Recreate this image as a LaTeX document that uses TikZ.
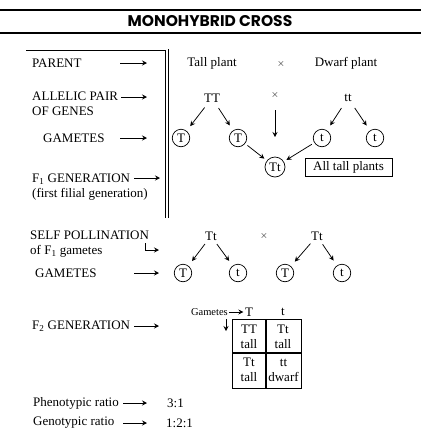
\documentclass[tikz,border=0pt]{standalone}
\usepackage{fontspec}
\setmainfont{Liberation Serif}
\newfontfamily\titlefont{Poppins}
\usetikzlibrary{arrows.meta}
\tikzset{
  arr/.style={-{Stealth[length=5pt,width=5pt,inset=1.8pt]},line width=0.75pt},
  lbl/.style={anchor=west,inner sep=0pt,align=left},
  txt/.style={inner sep=0pt},
  gam/.style={circle,draw,line width=0.7pt,inner sep=0pt,minimum size=17.5pt},
  split/.style={arr,shorten <=12pt,shorten >=15pt},
  fuse/.style={arr,shorten <=12pt,shorten >=13.5pt},
}

\begin{document}
\begin{tikzpicture}[x=1pt,y=1pt,font=\fontsize{13}{15}\selectfont]
\useasboundingbox (0,0) rectangle (421,-440);
% title bar
\draw[line width=1.5pt] (0,-10) -- (421,-10);
\draw[line width=1.5pt] (0,-33) -- (421,-33);
\node[txt] (title) at (210,-21.5) {\titlefont\bfseries\fontsize{15.5}{15}\selectfont MONOHYBRID CROSS};
% frame of the first cross
\draw[line width=0.8pt] (26,-50) -- (165,-50) -- (165,-218);
\draw[line width=0.8pt] (168,-49) -- (168,-218);

% row labels
\node[lbl] (parent) at (32,-63) {PARENT};
\node[lbl] (allelic) at (32,-104) {ALLELIC PAIR\\OF GENES};
\node[lbl] (gam1) at (43,-138) {GAMETES};
\node[lbl] (fone) at (32,-187) {F\textsubscript{1} GENERATION\\(first filial generation)};
\node[lbl] (self) at (30,-244) {SELF POLLINATION\\of F\textsubscript{1} gametes};
\node[lbl] (gam2) at (35,-273) {GAMETES};
\node[lbl] (ftwo) at (32,-326) {F\textsubscript{2} GENERATION};
\node[lbl] (pheno) at (33,-403) {Phenotypic ratio};
\node[lbl] (geno) at (33,-423) {Genotypic ratio};
\draw[arr] (120,-63) -- (147,-63);
\draw[arr] (121,-97) -- (147,-97);
\draw[arr] (120,-138) -- (147,-138);
\draw[arr] (134,-178) -- (160,-178);
\draw[arr] (145,-243) -- (145,-250) -- (159,-250);
\draw[arr] (134,-273) -- (159,-273);
\draw[arr] (134,-326) -- (159,-326);
\draw[arr] (123,-403) -- (147,-403);
\draw[arr] (123,-423) -- (147,-423);
\node[lbl] (r1) at (167,-403) {3:1};
\node[lbl] (r2) at (166,-423) {1:2:1};

% parents
\node[txt] (tall) at (212,-63) {Tall plant};
\node[txt] (x1) at (281,-64) {\fontsize{10}{10}\selectfont$\times$};
\node[txt] (dwarf) at (346,-63) {Dwarf plant};
\node[txt] (TT) at (212,-98) {TT};
\node[txt] (x2) at (275,-95) {\fontsize{10}{10}\selectfont$\times$};
\node[txt] (tt) at (348,-98) {tt};
% gametes of the parents
\node[gam] (g1) at (181,-138) {T};
\node[gam] (g2) at (238,-138) {T};
\node[gam] (g3) at (322,-138) {t};
\node[gam] (g4) at (375,-138) {t};
\draw[split] (TT.center) -- (g1.center);
\draw[split] (TT.center) -- (g2.center);
\draw[split] (tt.center) -- (g3.center);
\draw[split] (tt.center) -- (g4.center);
% F1
\node[gam,minimum size=20pt] (Tt) at (275,-167) {Tt};
\node[draw,line width=0.7pt,minimum width=87pt,minimum height=18pt,inner sep=2pt] (alltall) at (348.5,-167) {All tall plants};
\draw[arr,shorten <=15pt,shorten >=30pt] (x2.center) -- (Tt.center);
\draw[fuse] (g2.center) -- (Tt.center);
\draw[fuse] (g3.center) -- (Tt.center);

% selfing of F1
\node[txt] (Tt1) at (211,-236) {Tt};
\node[txt] (x3) at (264,-236) {\fontsize{10}{10}\selectfont$\times$};
\node[txt] (Tt2) at (317,-236) {Tt};
\node[gam] (h1) at (183,-273) {T};
\node[gam] (h2) at (238,-273) {t};
\node[gam] (h3) at (285,-273) {T};
\node[gam] (h4) at (342,-273) {t};
\draw[split,shorten <=10pt] (Tt1.center) -- (h1.center);
\draw[split,shorten <=10pt] (Tt1.center) -- (h2.center);
\draw[split,shorten <=10pt] (Tt2.center) -- (h3.center);
\draw[split,shorten <=10pt] (Tt2.center) -- (h4.center);

% Punnett square
\node[txt,anchor=east] (gamlbl) at (228,-312) {\fontsize{10.5}{12}\selectfont Gametes};
\node[txt] (colT) at (249,-312) {T};
\node[txt] (colt) at (283,-312) {t};
\draw[arr,shorten <=1pt,shorten >=1.5pt] (gamlbl.east) -- (colT.west);
\draw[arr] (226,-319) -- (226,-331);
\draw[line width=0.8pt] (232,-319) rectangle (301,-388);
\draw[line width=1.2pt] (266,-319) -- (266,-388);
\draw[line width=1.2pt] (232,-353) -- (301,-353);
\node[txt,align=center] (c11) at (249,-336.5) {TT\\tall};
\node[txt,align=center] (c12) at (283,-336.5) {Tt\\tall};
\node[txt,align=center] (c21) at (249,-370) {Tt\\tall};
\node[txt,align=center] (c22) at (283.5,-370) {tt\\dwarf};
\end{tikzpicture}
\end{document}
